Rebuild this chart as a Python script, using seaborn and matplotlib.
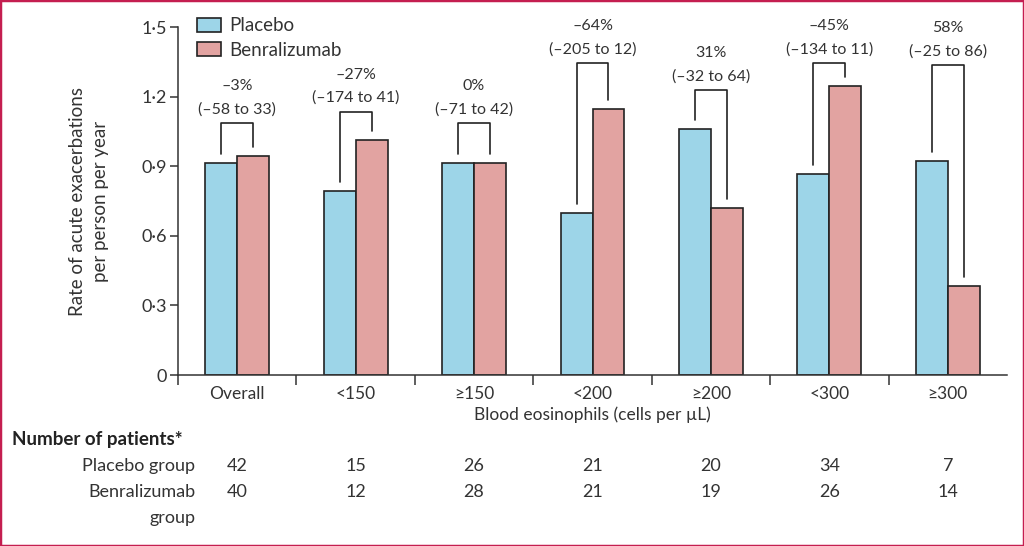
import numpy as np
import pandas as pd
import matplotlib
matplotlib.use("Agg")
import matplotlib.pyplot as plt
from matplotlib.patches import Rectangle, Patch
import seaborn as sns

# %% Data.
groups = ['Overall', '<150', '≥150', '<200', '≥200', '<300', '≥300']
placebo = [0.914, 0.793, 0.914, 0.698, 1.060, 0.866, 0.922]
benra = [0.944, 1.013, 0.914, 1.147, 0.720, 1.246, 0.384]
pct = ['–3%', '–27%', '0%', '–64%', '31%', '–45%', '58%']
ci = ['(–58 to 33)', '(–174 to 41)', '(–71 to 42)', '(–205 to 12)',
      '(–32 to 64)', '(–134 to 11)', '(–25 to 86)']
bracket_top = [1.086, 1.134, 1.086, 1.345, 1.228, 1.345, 1.336]
n_placebo = [42, 15, 26, 21, 20, 34, 7]
n_benra = [40, 12, 28, 21, 19, 26, 14]

df = pd.DataFrame({'group': groups * 2,
                   'treatment': ['Placebo'] * 7 + ['Benralizumab'] * 7,
                   'rate': placebo + benra})

# %% Style.
sns.set_style('ticks')
plt.rcParams['font.family'] = ['Lato', 'DejaVu Sans']
txt = '#333333'
colors = {'Placebo': '#9dd5e8', 'Benralizumab': '#e2a3a1'}

fig = plt.figure(figsize=(10.24, 5.46), dpi=100)
ax = fig.add_axes([178 / 1024, 1 - 375 / 546, 829 / 1024, 348 / 546])
sns.barplot(data=df, x='group', y='rate', hue='treatment', palette=colors, order=groups,
            hue_order=['Placebo', 'Benralizumab'], width=0.54, errorbar=None, saturation=1,
            edgecolor='#222222', linewidth=1.2, ax=ax, legend=False)

ax.set_xlim(-0.5, 6.5)
ax.set_ylim(0, 1.5)
sns.despine(ax=ax)
for s in ['left', 'bottom']:
    ax.spines[s].set_linewidth(1.1)
    ax.spines[s].set_color(txt)

ax.set_yticks([0, 0.3, 0.6, 0.9, 1.2, 1.5], labels=['0', '0·3', '0·6', '0·9', '1·2', '1·5'])
ax.tick_params(axis='y', length=6, width=1.1, color=txt, labelsize=13, labelcolor=txt, pad=2)
ax.set_xticks(np.arange(7), labels=groups)
ax.set_xticks(np.arange(-0.5, 6.0, 1.0), minor=True)
ax.tick_params(axis='x', which='major', length=0, labelsize=12.5, labelcolor=txt, pad=8)
ax.tick_params(axis='x', which='minor', length=7, width=1.1, color=txt)
ax.set_xlabel('Blood eosinophils (cells per µL)', fontsize=12.5, color=txt, labelpad=3)
ax.set_ylabel('Rate of acute exacerbations\nper person per year', fontsize=13.5, color=txt,
              labelpad=23, linespacing=1.45)

# %% Brackets with estimates.
off = 0.27 / 2
for i in range(7):
    top = bracket_top[i]
    ax.plot([i - off, i - off, i + off, i + off],
            [placebo[i] + 0.04, top, top, benra[i] + 0.04],
            color='#222222', lw=1.2, clip_on=False)
    ax.annotate(ci[i], (i, top), xytext=(0, 10), textcoords='offset points',
                ha='center', va='center', fontsize=11.5, color=txt, annotation_clip=False)
    ax.annotate(pct[i], (i, top), xytext=(0, 26.5), textcoords='offset points',
                ha='center', va='center', fontsize=11.5, color=txt, annotation_clip=False)

# %% Legend.
handles = [Patch(facecolor=colors[k], edgecolor='#222222', linewidth=1.2, label=k)
           for k in ['Placebo', 'Benralizumab']]
ax.legend(handles=handles, loc='upper left', bbox_to_anchor=(0.012, 1.055), frameon=False,
          fontsize=13.5, handlelength=1.25, handleheight=0.75, handletextpad=0.45,
          labelspacing=0.4, borderpad=0, labelcolor=txt)

# %% Patient numbers.
tr = ax.get_xaxis_transform()
for i in range(7):
    ax.text(i, -(466 - 375) / 348, str(n_placebo[i]), transform=tr, ha='center', va='center',
            fontsize=13, color=txt)
    ax.text(i, -(492 - 375) / 348, str(n_benra[i]), transform=tr, ha='center', va='center',
            fontsize=13, color=txt)
fig.text(12 / 1024, 1 - 440 / 546, 'Number of patients*', ha='left', va='center',
         fontsize=13.5, fontweight='bold', color='#222222')
fig.text(195 / 1024, 1 - 466 / 546, 'Placebo group', ha='right', va='center', fontsize=13, color=txt)
fig.text(195 / 1024, 1 - 492 / 546, 'Benralizumab', ha='right', va='center', fontsize=13, color=txt)
fig.text(195 / 1024, 1 - 518 / 546, 'group', ha='right', va='center', fontsize=13, color=txt)

fig.patches.append(Rectangle((0, 0), 1, 1, transform=fig.transFigure, fill=False,
                             edgecolor='#c41e50', linewidth=2.5))
fig.savefig('out.png', dpi=100)
